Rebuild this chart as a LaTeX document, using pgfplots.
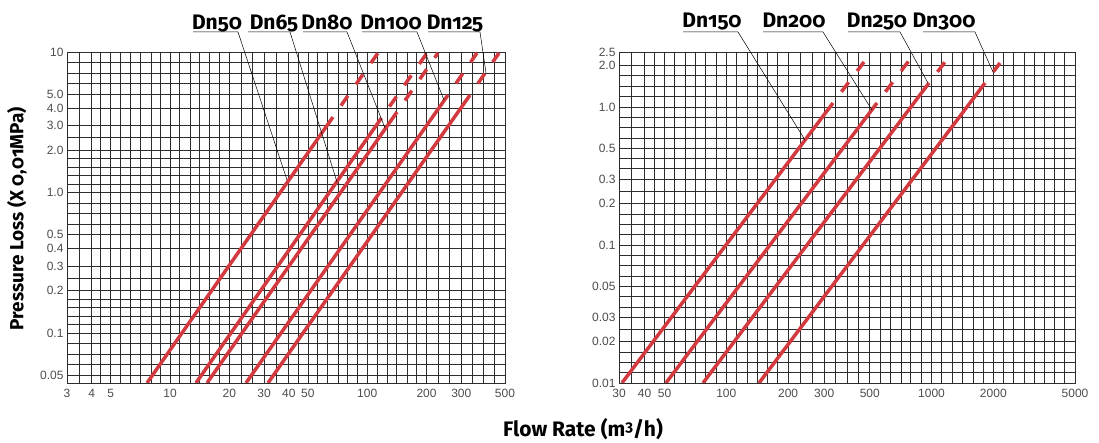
\documentclass[border=0pt]{standalone}
\usepackage{fontspec}
\setmainfont{Fira Sans}[Numbers=OldStyle]
\newfontfamily\tickfont{Liberation Sans}
\usepackage{pgfplots}
\pgfplotsset{compat=1.18}

\definecolor{curve}{RGB}{210,58,64}
\definecolor{gridc}{RGB}{45,45,45}

\tikzset{
  solidpart/.style={color=curve, line width=3.5pt},
  dashpart/.style={color=curve, line width=3.5pt, dash pattern=on 12pt off 14pt, dash phase=12pt},
}

\begin{document}
\begin{tikzpicture}
\path[use as bounding box] (0pt,0pt) rectangle (1099pt,443pt);

% left chart: Dn50 - Dn125
\begin{axis}[
  scale only axis, xmode=log, ymode=log,
  at={(67pt,60pt)}, anchor=south west, width=438pt, height=331pt,
  axis line style={gridc, line width=0.9pt},
  grid=both,
  major grid style={gridc, line width=0.7pt},
  minor grid style={gridc, line width=0.7pt},
  major tick length=0pt, minor tick length=0pt,
  ticklabel style={font=\tickfont\fontsize{12}{12}\selectfont, text=black!70},
  xticklabel style={yshift=-3pt},
  xmin=3, xmax=500, ymin=0.044, ymax=10,
  xtick={3,4,5,10,20,30,40,50,100,200,300,500},
  xticklabels={3,4,5,10,20,30,40,50,100,200,300,500},
  minor xtick={3.45,4.45,5.6,6.3,7.1,8,8.9,11.2,12.6,14.1,15.9,17.8,22.9,26.2,34.6,44.7,56,63,71,79,89,112,126,141,159,178,229,262,340,387,440},
  ytick={0.05,0.1,0.2,0.3,0.4,0.5,1,2,3,4,5,10},
  yticklabels={0.05,0.1,0.2,0.3,0.4,0.5,1.0,2.0,3.0,4.0,5.0,10},
  minor ytick={0.0595,0.0707,0.0841,0.115,0.132,0.152,0.174,0.245,0.595,0.707,0.841,1.15,1.32,1.52,1.74,2.45,5.95,7.07,8.41},
]
\addplot[solidpart] coordinates {(7.64,0.044) (67.0,3.44)};
\addplot[dashpart]  coordinates {(67.0,3.44) (113.4,9.84)};
\addplot[solidpart] coordinates {(13.53,0.044) (118.1,3.39)};
\addplot[dashpart]  coordinates {(118.1,3.39) (201,9.84)};
\addplot[solidpart] coordinates {(15.39,0.044) (141.6,3.74)};
\addplot[dashpart]  coordinates {(141.6,3.74) (228.6,9.84)};
\addplot[solidpart] coordinates {(24.27,0.044) (256.9,4.94)};
\addplot[dashpart]  coordinates {(256.9,4.94) (360.4,9.84)};
\addplot[solidpart] coordinates {(31.38,0.044) (332.2,4.94)};
\addplot[dashpart]  coordinates {(332.2,4.94) (466.2,9.84)};
\end{axis}

% right chart: Dn150 - Dn300
\begin{axis}[
  scale only axis, xmode=log, ymode=log,
  at={(619pt,60pt)}, anchor=south west, width=456pt, height=331pt,
  axis line style={gridc, line width=0.9pt},
  grid=both,
  major grid style={gridc, line width=0.7pt},
  minor grid style={gridc, line width=0.7pt},
  major tick length=0pt, minor tick length=0pt,
  ticklabel style={font=\tickfont\fontsize{12}{12}\selectfont, text=black!70},
  xticklabel style={yshift=-3pt},
  xmin=30, xmax=5000, ymin=0.01, ymax=2.5,
  xtick={30,40,50,100,200,300,500,1000,2000,5000},
  xticklabels={30,40,50,100,200,300,500,1000,2000,5000},
  minor xtick={34.6,44.7,56,63,71,79,89,112,126,141,159,178,229,262,340,387,440,560,630,710,790,890,1120,1260,1410,1590,1780,2243,2515,2820,3163,3547,3978,4460},
  ytick={0.01,0.02,0.03,0.05,0.1,0.2,0.3,0.5,1,2,2.5},
  yticklabels={0.01,0.02,0.03,0.05,0.1,0.2,0.3,0.5,1.0,2.0,2.5},
  minor ytick={0.0119,0.0141,0.0168,0.0245,0.0356,0.0422,0.0595,0.0707,0.0841,0.119,0.141,0.168,0.245,0.356,0.422,0.595,0.707,0.841,1.19,1.41,1.68},
]
\addplot[solidpart] coordinates {(31.0,0.01) (330.9,1.068)};
\addplot[dashpart]  coordinates {(330.9,1.068) (468.6,2.116)};
\addplot[solidpart] coordinates {(50.8,0.01) (542.2,1.068)};
\addplot[dashpart]  coordinates {(542.2,1.068) (780.9,2.19)};
\addplot[solidpart] coordinates {(77.0,0.01) (971.4,1.491)};
\addplot[dashpart]  coordinates {(971.4,1.491) (1162.8,2.116)};
\addplot[solidpart] coordinates {(144.3,0.01) (1821.6,1.491)};
\addplot[dashpart]  coordinates {(1821.6,1.491) (2155,2.081)};
\end{axis}

% size labels with leader lines
\begin{scope}[x=1pt, y=1pt, font=\bfseries\fontsize{21}{21}\selectfont]
\draw[black, line width=0.5pt] (193,411) -- (238,411) -- (287,263);
\draw[black, line width=0.5pt] (248,411) -- (290,411) -- (337,261);
\draw[black, line width=0.5pt] (303,411) -- (347,411) -- (385,315);
\draw[black, line width=0.5pt] (362,411) -- (417,411) -- (444,343);
\draw[black, line width=0.5pt] (428,411) -- (480,411) -- (486,370);
\draw[black, line width=0.5pt] (683,411) -- (738,411) -- (805,303);
\draw[black, line width=0.5pt] (763,411) -- (823,411) -- (872,333);
\draw[black, line width=0.5pt] (848,411) -- (900,411) -- (928,360);
\draw[black, line width=0.5pt] (923,411) -- (975,411) -- (993,371);
\node[anchor=base] at (217,413) {Dn50};
\node[anchor=base] at (274,413) {Dn65};
\node[anchor=base] at (327,413) {Dn80};
\node[anchor=base] at (391,413) {Dn100};
\node[anchor=base] at (455,413) {Dn125};
\node[anchor=base] at (712,415) {Dn150};
\node[anchor=base] at (794,415) {Dn200};
\node[anchor=base] at (877,415) {Dn250};
\node[anchor=base] at (944,415) {Dn300};
\node[rotate=90, font=\bfseries\fontsize{19}{19}\selectfont] at (17,224) {Pressure Loss (X 0,01MPa)};
\node[font=\bfseries\fontsize{21}{21}\selectfont] at (583,14) {Flow Rate (m\raisebox{0.45ex}{\fontsize{15}{15}\selectfont 3}/h)};
\end{scope}
\end{tikzpicture}
\end{document}
